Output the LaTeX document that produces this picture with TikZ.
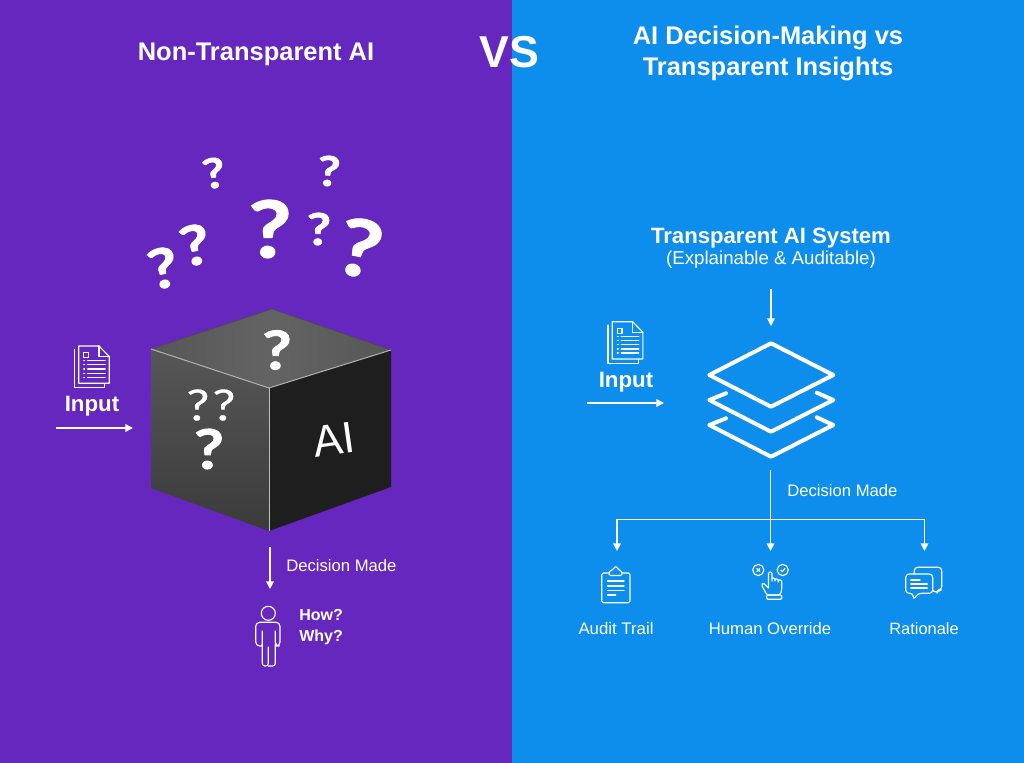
\documentclass[tikz,border=0pt]{standalone}
\usepackage{fontspec}
\setmainfont{Liberation Sans}
\newfontfamily\qfont[FakeStretch=1.2,FakeBold=.5,BoldFeatures={FakeBold=1.5}]{Lato}
\usetikzlibrary{arrows.meta}
\definecolor{leftbg}{HTML}{6527BE}
\definecolor{rightbg}{HTML}{0E8EEC}
\definecolor{cubedark}{HTML}{1E1E1E}
\tikzset{
	px/.style={font=\fontsize{#1}{#1}\selectfont},
	pxb/.style={font=\bfseries\fontsize{#1}{#1}\selectfont},
	qm/.style={font=\qfont\fontsize{#1}{#1}\selectfont},
	qmb/.style={font=\qfont\bfseries\fontsize{#1}{#1}\selectfont},
	txt/.style={text=white,inner sep=0pt},
	flow/.style={draw=white,line width=1.2pt,-{Triangle[width=5.8pt,length=5.8pt]}},
	icon/.style={draw=white,line width=.85pt,line join=round,line cap=round},
	layer/.style={draw=white,line width=3pt,line join=round,line cap=round},
	pics/docicon/.style={code={
		\draw[icon] (-4.3,3.4) -- (-4.3,41.4) -- (26.2,41.4) -- (26.2,37.3);
		\draw[icon,fill=#1] (0,0) -- (20.3,0) -- (30.6,10.6) -- (30.6,37.3) -- (0,37.3) -- cycle;
		\draw[icon] (20.3,0) -- (20.3,10.6) -- (30.6,10.6);
		\draw[icon] (5,6.7) rectangle (9.7,11.4);
		\foreach \y in {14.7,18.7,23,27.3,31.3} {
			\draw[icon] (5,\y) -- (6,\y);
			\draw[icon] (9,\y) -- (26.5,\y);
		}
	}}
}
\begin{document}
\begin{tikzpicture}[x=.75pt,y=-.75pt]
	\useasboundingbox (0,0) rectangle (1024,763);
	\fill[leftbg] (0,0) rectangle (512,763);
	\fill[rightbg] (512,0) rectangle (1024,763);

	% titles
	\node[txt,pxb=19.1] (titleL) at (256,54) {Non-Transparent AI};
	\node[txt,pxb=19.1] (titleR1) at (768,38) {AI Decision-Making vs};
	\node[txt,pxb=19.1] (titleR2) at (768,69) {Transparent Insights};
	\node[txt,pxb=33.5] (vs) at (509,52) {VS};

	% floating question marks
	\node[txt,qmb=31,rotate=10] (q1) at (214,173) {?};
	\node[txt,qmb=31,rotate=-3] (q2) at (329,171) {?};
	\node[txt,qmb=59] (q3) at (270,229) {?};
	\node[txt,qmb=33] (q4) at (319,229) {?};
	\node[txt,qmb=59,rotate=-12] (q5) at (360,248) {?};
	\node[txt,qmb=41,rotate=12] (q6) at (195,245) {?};
	\node[txt,qmb=41,rotate=12] (q7) at (163,268) {?};

	% cube
	\coordinate (ctop) at (272,309);
	\coordinate (cleft) at (151,349);
	\coordinate (cmid) at (269,388);
	\coordinate (cright) at (391,350);
	\coordinate (cleftb) at (151,488);
	\coordinate (cbot) at (269,531);
	\coordinate (crightb) at (391,487);
	\shade[left color=black!66,right color=black!66,middle color=black!61] (ctop) -- (cleft) -- (cmid) -- (cright) -- cycle;
	\shade[top color=black!66,bottom color=black!77] (cleft) -- (cmid) -- (cbot) -- (cleftb) -- cycle;
	\fill[cubedark] (cmid) -- (cright) -- (crightb) -- (cbot) -- cycle;
	\draw[black!70,line width=.5pt] (cleft) -- (ctop) -- (cright);
	\draw[black!30,line width=.75pt] (cleft) -- (cmid) -- (cright);
	\draw[black!25,line width=.75pt] (cmid) -- (cbot);
	\node[txt,qmb=40] (q8) at (277,350) {?};
	\node[txt,qm=32] (q9) at (198,405) {?};
	\node[txt,qm=32] (q10) at (224,405) {?};
	\node[txt,qmb=41] (q11) at (209,449) {?};
	\node[txt,px=33,rotate=8] (ai) at (334,440) {AI};

	% left input
	\pic at (78.7,346) {docicon=leftbg};
	\node[txt,pxb=16.7] (inputL) at (92,406) {Input};
	\coordinate (inL1) at (56,428);
	\coordinate (inL2) at (133,428);
	\draw[flow] (inL1) -- (inL2);

	% left decision
	\coordinate (decL1) at (270,547);
	\coordinate (decL2) at (270,589);
	\draw[flow] (decL1) -- (decL2);
	\node[txt,px=12.5,anchor=west] (decisionL) at (286,566) {Decision Made};
	\node[txt,pxb=12,anchor=west] (how) at (299,615) {How?};
	\node[txt,pxb=12,anchor=west] (why) at (299,637) {Why?};

	% person
	\draw[icon] (268.3,613.3) circle (7);
	\draw[icon,rounded corners=3pt] (262.3,646) -- (262.3,631) (262.3,646) -- (255.7,646) -- (255.7,622.3) -- (280,622.3) -- (280,646) -- (275.3,646) -- (275.3,631);
	\draw[icon,rounded corners=2pt] (262.3,644) -- (262.3,666) -- (268.3,666) -- (268.3,647);
	\draw[icon,rounded corners=2pt] (268.3,666) -- (275.3,666) -- (275.3,644);

	% right system
	\node[txt,pxb=16.6] (system) at (771,238) {Transparent AI System};
	\node[txt,px=14] (systemsub) at (771,260) {(Explainable \& Auditable)};
	\coordinate (sysin1) at (771,289);
	\coordinate (sysin2) at (771,326);
	\draw[flow] (sysin1) -- (sysin2);

	% layers
	\draw[layer] (771,343.3) -- (833.3,375) -- (771,406.7) -- (709.3,375) -- cycle;
	\draw[layer] (726,393.3) -- (709.3,400) -- (771,431.7) -- (833.3,400) -- (816.7,392.7);
	\draw[layer] (726,418.3) -- (709.3,425) -- (771,456.7) -- (833.3,425) -- (816.7,417.3);

	% right input
	\pic at (612.3,321.7) {docicon=rightbg};
	\node[txt,pxb=16.7] (inputR) at (626,382) {Input};
	\coordinate (inR1) at (587,403);
	\coordinate (inR2) at (664,403);
	\draw[flow] (inR1) -- (inR2);

	% decision branches
	\coordinate (dec1) at (770.5,470);
	\coordinate (dec2) at (770.5,551);
	\coordinate (branchL) at (617,551);
	\coordinate (branchR) at (924.5,551);
	\coordinate (branchY) at (770.5,519.5);
	\draw[flow] (dec1) -- (dec2);
	\draw[flow] (branchY) -| (branchL);
	\draw[flow] (branchY) -| (branchR);
	\node[txt,px=12.5,anchor=west] (decisionR) at (787,491) {Decision Made};

	% audit trail icon
	\draw[icon,rounded corners=1.2pt] (609,573) -- (601.7,573) -- (601.7,602.7) -- (630,602.7) -- (630,573) -- (622,573);
	\draw[icon,rounded corners=1pt] (609,575.5) -- (609,571.5) -- (612.5,570) -- (615.7,566) -- (619,570) -- (622,571.5) -- (622,575.5) -- cycle;
	\foreach \y in {581,586,590.7} {
		\draw[icon] (607.5,\y) -- (624,\y);
	}
	\draw[icon] (607.5,595) -- (615.7,595);
	\node[txt,px=12.6,anchor=base] (audit) at (616,634) {Audit Trail};

	% human override icon
	\draw[icon] (758.3,570) circle (5.6);
	\draw[icon] (782.7,570) circle (5.6);
	\draw[icon] (756.8,568.5) -- (759.8,571.5) (759.8,568.5) -- (756.8,571.5);
	\draw[icon] (780.7,570) -- (782.2,571.7) -- (785,568.5);
	\draw[icon,rounded corners=1pt] (768.5,588) -- (768.5,572) -- (772,572) -- (772,581) (772,578) -- (775,578) -- (775,581) (775,579) -- (778.3,579) -- (778.3,582) (778.3,580) -- (781.7,580) -- (781.7,590) -- (780,595) -- (767,595) -- (761.5,585) -- (763,582.7) -- (768.5,588);
	\draw[icon,rounded corners=.8pt] (766.7,595) rectangle (781.7,599.3);
	\node[txt,px=12.5,anchor=base] (override) at (770,634) {Human Override};

	% rationale icon
	\draw[icon,rounded corners=2.5pt] (914.3,574) -- (914.3,567.3) -- (941.7,567.3) -- (941.7,590) -- (938,590) -- (937,593.5) -- (933,590.5);
	\draw[icon,rounded corners=2.5pt] (905.7,574) -- (932.7,574) -- (932.7,593.3) -- (918,593.3) -- (913.3,600) -- (913.3,593.3) -- (905.7,593.3) -- cycle;
	\draw[icon] (910.7,580) -- (920,580);
	\draw[icon] (910.7,584) -- (927.3,584);
	\draw[icon] (910.7,588) -- (927.3,588);
	\node[txt,px=12.3,anchor=base] (rationale) at (924,634) {Rationale};
\end{tikzpicture}
\end{document}
